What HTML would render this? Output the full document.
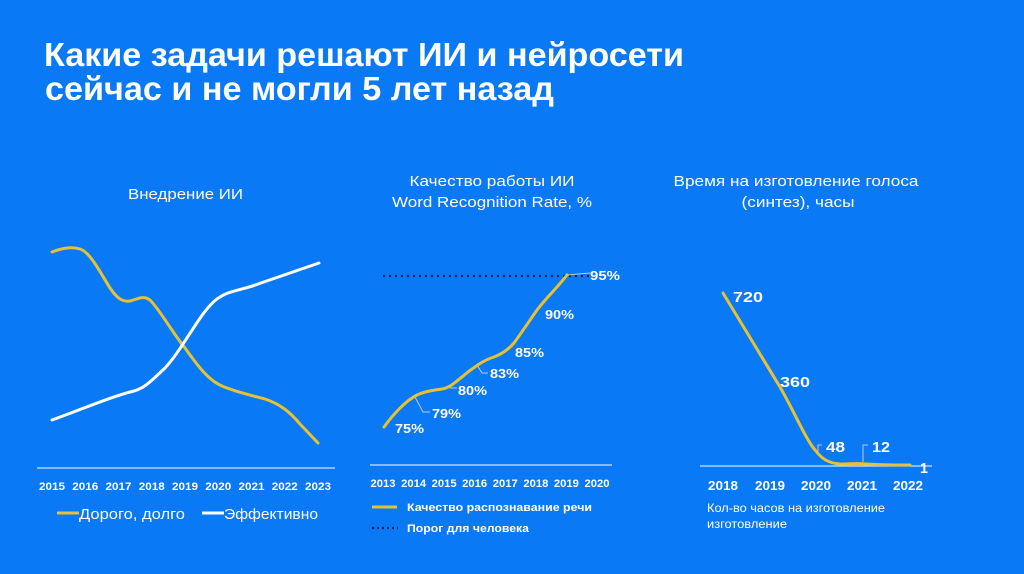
<!DOCTYPE html>
<html><head><meta charset="utf-8"><style>
html,body{margin:0;padding:0;background:#0a79f5;}
svg{display:block;}
text{font-family:"Liberation Sans",sans-serif;fill:#fff;}
</style></head><body>
<svg width="1024" height="574" viewBox="0 0 1024 574" xmlns="http://www.w3.org/2000/svg">
<rect width="1024" height="574" fill="#0a79f5"/>
<!-- Title -->
<text x="44" y="66" font-size="33" font-weight="bold" textLength="640" lengthAdjust="spacingAndGlyphs">Какие задачи решают ИИ и нейросети</text>
<text x="45" y="100" font-size="33" font-weight="bold" textLength="509" lengthAdjust="spacingAndGlyphs">сейчас и не могли 5 лет назад</text>

<!-- Chart 1 -->
<text x="128" y="199" font-size="15" textLength="115" lengthAdjust="spacingAndGlyphs">Внедрение ИИ</text>
<line x1="37" y1="468" x2="335" y2="468" stroke="#cfe2ff" stroke-width="1.2"/>
<path d="M52,252 C60,249 70,246 80,249 C90,252 100,272 110,288 C118,300 124,302 130,301 C138,299 143,295 150,300 C160,310 172,332 185,348 C198,366 208,380 222,386 C236,392 250,395 265,399 C280,404 290,412 300,424 L318,443" fill="none" stroke="#e6c233" stroke-width="3" stroke-linecap="round"/>
<path d="M52,420 C80,410 110,397 130,392 C145,389 152,380 165,368 C178,354 190,332 203,314 C212,302 218,297 228,293 C240,289 248,288 258,284 L319,263" fill="none" stroke="#ffffff" stroke-width="3" stroke-linecap="round"/>
<g font-size="11" font-weight="bold" text-anchor="middle">
<text x="52" y="490" textLength="26" lengthAdjust="spacingAndGlyphs">2015</text>
<text x="85.3" y="490" textLength="26" lengthAdjust="spacingAndGlyphs">2016</text>
<text x="118.5" y="490" textLength="26" lengthAdjust="spacingAndGlyphs">2017</text>
<text x="151.8" y="490" textLength="26" lengthAdjust="spacingAndGlyphs">2018</text>
<text x="185" y="490" textLength="26" lengthAdjust="spacingAndGlyphs">2019</text>
<text x="218.3" y="490" textLength="26" lengthAdjust="spacingAndGlyphs">2020</text>
<text x="251.5" y="490" textLength="26" lengthAdjust="spacingAndGlyphs">2021</text>
<text x="284.8" y="490" textLength="26" lengthAdjust="spacingAndGlyphs">2022</text>
<text x="318" y="490" textLength="26" lengthAdjust="spacingAndGlyphs">2023</text>
</g>
<line x1="57" y1="513" x2="79" y2="513" stroke="#e6c233" stroke-width="3"/>
<text x="79" y="519" font-size="15" textLength="106" lengthAdjust="spacingAndGlyphs">Дорого, долго</text>
<line x1="202" y1="513" x2="224" y2="513" stroke="#fff" stroke-width="3"/>
<text x="224" y="519" font-size="15" textLength="94" lengthAdjust="spacingAndGlyphs">Эффективно</text>

<!-- Chart 2 -->
<text x="492" y="186" font-size="15" text-anchor="middle" textLength="165" lengthAdjust="spacingAndGlyphs">Качество работы ИИ</text>
<text x="492" y="207" font-size="15" text-anchor="middle" textLength="200" lengthAdjust="spacingAndGlyphs">Word Recognition Rate, %</text>
<line x1="383" y1="276" x2="590" y2="276" stroke="#0b1c55" stroke-width="2.2" stroke-dasharray="2 4"/>
<line x1="370" y1="465" x2="612" y2="465" stroke="#cfe2ff" stroke-width="1.2"/>
<g fill="none" stroke="#b9c8e0" stroke-width="1">
<polyline points="415,397 423,412 430,412"/>
<polyline points="450,388 457,388"/>
<polyline points="477,365 482,373 488,373"/>
<polyline points="567,275 590,273"/>
</g>
<path d="M384,427 C392,416 405,401 417,395 C425,391 435,390 442,389 C450,388 458,380 468,372 C476,366 484,360 494,357 C502,354 508,350 514,343 C522,332 530,320 537,310 C547,297 557,288 567,275" fill="none" stroke="#e6c233" stroke-width="3" stroke-linecap="round"/>
<g font-size="13" font-weight="bold">
<text x="395" y="433" textLength="29" lengthAdjust="spacingAndGlyphs">75%</text>
<text x="432" y="418" textLength="29" lengthAdjust="spacingAndGlyphs">79%</text>
<text x="458" y="395" textLength="29" lengthAdjust="spacingAndGlyphs">80%</text>
<text x="490" y="378" textLength="29" lengthAdjust="spacingAndGlyphs">83%</text>
<text x="515" y="357" textLength="29" lengthAdjust="spacingAndGlyphs">85%</text>
<text x="545" y="319" textLength="29" lengthAdjust="spacingAndGlyphs">90%</text>
<text x="590" y="280" textLength="30" lengthAdjust="spacingAndGlyphs">95%</text>
</g>
<g font-size="11" font-weight="bold" text-anchor="middle">
<text x="383" y="487" textLength="25" lengthAdjust="spacingAndGlyphs">2013</text>
<text x="413.6" y="487" textLength="25" lengthAdjust="spacingAndGlyphs">2014</text>
<text x="444.1" y="487" textLength="25" lengthAdjust="spacingAndGlyphs">2015</text>
<text x="474.7" y="487" textLength="25" lengthAdjust="spacingAndGlyphs">2016</text>
<text x="505.3" y="487" textLength="25" lengthAdjust="spacingAndGlyphs">2017</text>
<text x="535.9" y="487" textLength="25" lengthAdjust="spacingAndGlyphs">2018</text>
<text x="566.4" y="487" textLength="25" lengthAdjust="spacingAndGlyphs">2019</text>
<text x="597" y="487" textLength="25" lengthAdjust="spacingAndGlyphs">2020</text>
</g>
<line x1="372" y1="507" x2="397" y2="507" stroke="#e6c233" stroke-width="3"/>
<text x="407" y="511" font-size="11" font-weight="bold" textLength="185" lengthAdjust="spacingAndGlyphs">Качество распознавание речи</text>
<line x1="372" y1="528" x2="398" y2="528" stroke="#0b1c55" stroke-width="2.2" stroke-dasharray="2 3"/>
<text x="407" y="532" font-size="11" font-weight="bold" textLength="122" lengthAdjust="spacingAndGlyphs">Порог для человека</text>

<!-- Chart 3 -->
<text x="796" y="186" font-size="15" text-anchor="middle" textLength="245" lengthAdjust="spacingAndGlyphs">Время на изготовление голоса</text>
<text x="798" y="207" font-size="15" text-anchor="middle" textLength="113" lengthAdjust="spacingAndGlyphs">(синтез), часы</text>
<line x1="700" y1="466" x2="932" y2="466" stroke="#cfe2ff" stroke-width="1.2"/>
<g fill="none" stroke="#b9c8e0" stroke-width="1">
<polyline points="818,453 818,445 822,445"/>
<polyline points="863,462 863,445 868,445"/>
</g>
<path d="M723,293 L780,387 C795,413 805,438 815,450 C822,459 828,463 840,464 C850,464 858,463 866,464 C880,465 895,465 910,465" fill="none" stroke="#e6c233" stroke-width="3" stroke-linecap="round"/>
<g font-size="15" font-weight="bold">
<text x="733" y="302" textLength="30" lengthAdjust="spacingAndGlyphs">720</text>
<text x="780" y="387" textLength="30" lengthAdjust="spacingAndGlyphs">360</text>
<text x="826" y="452" textLength="19" lengthAdjust="spacingAndGlyphs">48</text>
<text x="872" y="452" textLength="18" lengthAdjust="spacingAndGlyphs">12</text>
<text x="920" y="473" textLength="8" lengthAdjust="spacingAndGlyphs">1</text>
</g>
<g font-size="13" font-weight="bold" text-anchor="middle">
<text x="723" y="490" textLength="30" lengthAdjust="spacingAndGlyphs">2018</text>
<text x="770" y="490" textLength="30" lengthAdjust="spacingAndGlyphs">2019</text>
<text x="816" y="490" textLength="30" lengthAdjust="spacingAndGlyphs">2020</text>
<text x="862" y="490" textLength="30" lengthAdjust="spacingAndGlyphs">2021</text>
<text x="908" y="490" textLength="30" lengthAdjust="spacingAndGlyphs">2022</text>
</g>
<text x="707" y="512" font-size="12" textLength="178" lengthAdjust="spacingAndGlyphs">Кол-во часов на изготовление</text>
<text x="707" y="528" font-size="12" textLength="80" lengthAdjust="spacingAndGlyphs">изготовление</text>
</svg>
</body></html>
